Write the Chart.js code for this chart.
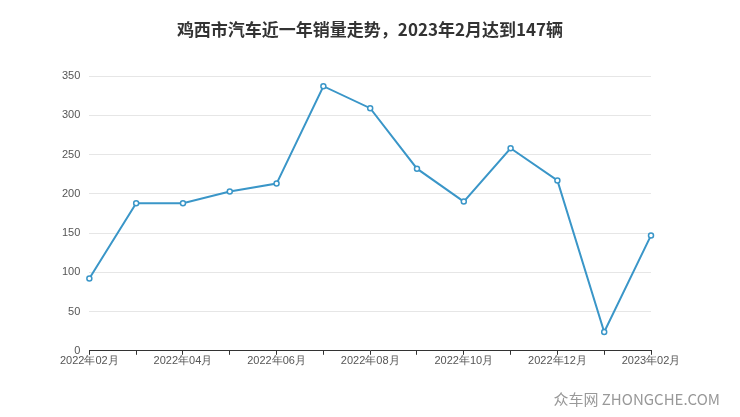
<!DOCTYPE html>
<html lang="zh">
<head>
<meta charset="UTF-8">
<script src="https://cdn.jsdelivr.net/npm/chart.js"></script>
<style>
  body { margin: 0; background: #fff; font-family: "Noto Sans CJK SC", sans-serif; }
  #wrap { position: relative; width: 740px; height: 417px; }
  #title { position: absolute; left: 0; width: 740px; top: 16px; text-align: center; color: #333; font-size: 17px; font-weight: bold; }
  #mark { position: absolute; right: 20px; bottom: 8px; color: #999; font-size: 15px; }
</style>
</head>
<body>
<div id="wrap">
  <canvas id="salesChart" width="740" height="417"></canvas>
  <div id="title">鸡西市汽车近一年销量走势，2023年2月达到147辆</div>
  <div id="mark">众车网 ZHONGCHE.COM</div>
</div>
<script>
  const months = ['2022年02月', '2022年03月', '2022年04月', '2022年05月', '2022年06月', '2022年07月', '2022年08月',
                  '2022年09月', '2022年10月', '2022年11月', '2022年12月', '2023年01月', '2023年02月'];
  const sales = [92, 188, 188, 203, 213, 337, 309, 232, 190, 258, 217, 24, 147];
  const yTicks = [0, 50, 100, 150, 200, 250, 300, 350];

  new Chart(document.getElementById('salesChart'), {
    type: 'line',
    data: {
      labels: months,
      datasets: [{
        data: sales,
        borderColor: '#3a96c8',
        borderWidth: 2,
        pointRadius: 2.5,
        pointBackgroundColor: '#fff',
        pointBorderColor: '#3a96c8',
        pointBorderWidth: 1.5,
        tension: 0
      }]
    },
    options: {
      responsive: false,
      animation: false,
      layout: { padding: { left: 53, right: 89, top: 76, bottom: 49 } },
      plugins: {
        legend: { display: false },
        tooltip: { enabled: false }
      },
      scales: {
        x: {
          grid: { display: true, drawOnChartArea: false, tickLength: 4, color: '#333' },
          border: { color: '#333' },
          ticks: {
            color: '#555',
            font: { size: 11 },
            maxRotation: 0,
            autoSkip: false,
            padding: 0,
            callback: (v, i) => i % 2 === 0 ? months[i] : ''
          }
        },
        y: {
          min: 0,
          max: 350,
          afterBuildTicks: axis => { axis.ticks = yTicks.map(v => ({ value: v })); },
          grid: { color: '#e6e6e6', drawTicks: false },
          border: { display: false },
          ticks: { color: '#555', font: { size: 11 }, padding: 9 }
        }
      }
    }
  });
</script>
</body>
</html>
